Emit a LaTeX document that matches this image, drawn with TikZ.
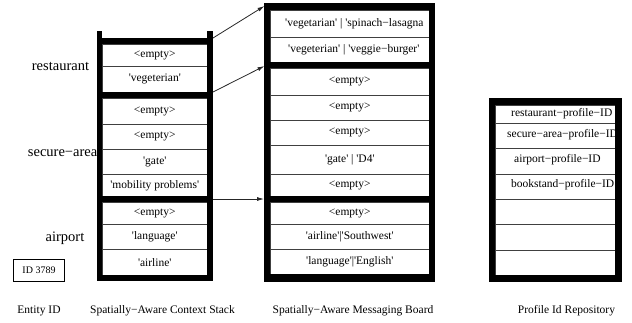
\documentclass[tikz,border=0pt]{standalone}
\usepackage{fontspec}
\setmainfont{Liberation Serif}
\usetikzlibrary{arrows.meta}
\newcommand{\sq}{\textquotesingle}
\begin{document}
\begin{tikzpicture}[x=1pt,y=-1pt,
  every node/.style={font=\fontsize{11.5}{13}\selectfont},
  cell/.style={draw=black!75, line width=0.6pt, inner sep=0pt, anchor=north west},
  txt/.style={inner sep=0pt},
  biglabel/.style={font=\fontsize{14.5}{16}\selectfont, inner sep=0pt},
  bar/.style={fill=black, draw=none},
  link/.style={draw=black!85, line width=0.8pt, -{Latex[length=7pt,width=4pt]}}]
\useasboundingbox (0,0) rectangle (632,322);

% ---------------- context stack ----------------
\node[cell, minimum width=105pt, minimum height=22pt] (s1) at (102,44) {<empty>};
\node[cell, minimum width=105pt, minimum height=26pt] (s2) at (102,66) {\sq vegeterian\sq};
\node[cell, minimum width=105pt, minimum height=26pt] (s3) at (102,98) {<empty>};
\node[cell, minimum width=105pt, minimum height=25pt] (s4) at (102,124) {<empty>};
\node[cell, minimum width=105pt, minimum height=25pt] (s5) at (102,149) {\sq gate\sq};
\node[cell, minimum width=105pt, minimum height=22pt] (s6) at (102,174) {\sq mobility problems\sq};
\node[cell, minimum width=105pt, minimum height=22pt] (s7) at (102,202) {<empty>};
\node[cell, minimum width=105pt, minimum height=25pt] (s8) at (102,224) {\sq language\sq};
\node[cell, minimum width=105pt, minimum height=26pt] (s9) at (102,249) {\sq airline\sq};
\fill[bar] (96.5,31) rectangle (102,281);
\fill[bar] (207,31) rectangle (212.5,281);
\fill[bar] (96.5,38) rectangle (212.5,44);
\fill[bar] (96.5,92) rectangle (212.5,98);
\fill[bar] (96.5,196) rectangle (212.5,202);
\fill[bar] (96.5,275) rectangle (212.5,281);

\node[biglabel] (lrest) at (60.5,66) {restaurant};
\node[biglabel, anchor=east] (lsec) at (97.5,153) {secure−area};
\node[biglabel] (lair) at (65,238) {airport};

% ---------------- messaging board ----------------
\node[cell, minimum width=159pt, minimum height=27pt] (b1) at (270,10) {};
\node[txt, anchor=west] (b1t) at (285,23.5) {\sq vegetarian\sq\ | \sq spinach−lasagna};
\node[cell, minimum width=159pt, minimum height=25pt] (b2) at (270,37) {};
\node[txt, anchor=west] (b2t) at (288,49.5) {\sq vegeterian\sq\ | \sq veggie−burger\sq};
\node[cell, minimum width=159pt, minimum height=27pt] (b3) at (270,68) {<empty>};
\node[cell, minimum width=159pt, minimum height=25pt] (b4) at (270,95) {<empty>};
\node[cell, minimum width=159pt, minimum height=25pt] (b5) at (270,120) {<empty>};
\node[cell, minimum width=159pt, minimum height=29pt] (b6) at (270,145) {\sq gate\sq\ | \sq D4\sq};
\node[cell, minimum width=159pt, minimum height=22pt] (b7) at (270,174) {<empty>};
\node[cell, minimum width=159pt, minimum height=22pt] (b8) at (270,202) {<empty>};
\node[cell, minimum width=159pt, minimum height=25pt] (b9) at (270,224) {\sq airline\sq|\sq Southwest\sq};
\node[cell, minimum width=159pt, minimum height=25pt] (b10) at (270,249) {\sq language\sq|\sq English\sq};
\fill[bar] (264,3) rectangle (270,282);
\fill[bar] (429,3) rectangle (435,282);
\fill[bar] (264,3) rectangle (435,10);
\fill[bar] (264,62) rectangle (435,68);
\fill[bar] (264,196) rectangle (435,202);
\fill[bar] (264,274) rectangle (435,282);

% ---------------- profile repository ----------------
\node[cell, minimum width=120pt, minimum height=18pt] (p1) at (495,105) {};
\node[txt, anchor=west] (p1t) at (511,114) {restaurant−profile−ID};
\node[cell, minimum width=120pt, minimum height=25pt] (p2) at (495,123) {};
\node[txt, anchor=west] (p2t) at (507,135) {secure−area−profile−ID};
\node[cell, minimum width=120pt, minimum height=26pt] (p3) at (495,148) {};
\node[txt, anchor=west] (p3t) at (514,160) {airport−profile−ID};
\node[cell, minimum width=120pt, minimum height=25pt] (p4) at (495,174) {};
\node[txt, anchor=west] (p4t) at (511,185) {bookstand−profile−ID};
\node[cell, minimum width=120pt, minimum height=25pt] (p5) at (495,199) {};
\node[cell, minimum width=120pt, minimum height=26pt] (p6) at (495,224) {};
\node[cell, minimum width=120pt, minimum height=25pt] (p7) at (495,250) {};
\fill[bar] (489,98) rectangle (495,282);
\fill[bar] (615,98) rectangle (622,282);
\fill[bar] (489,98) rectangle (622,105);
\fill[bar] (489,275) rectangle (622,282);

% ---------------- entity id ----------------
\node[draw, line width=1.6pt, minimum width=51pt, minimum height=22pt, inner sep=0pt,
      font=\fontsize{10}{12}\selectfont] (eid) at (39,270.5) {ID 3789};

% ---------------- arrows ----------------
\coordinate (a1s) at (213,38);
\coordinate (a1e) at (264.5,6);
\coordinate (a2s) at (213,92);
\coordinate (a2e) at (264.5,66);
\coordinate (a3s) at (212.5,199);
\coordinate (a3e) at (264,199);
\draw[link] (a1s) -- (a1e);
\draw[link] (a2s) -- (a2e);
\draw[link] (a3s) -- (a3e);

% ---------------- captions ----------------
\node[txt] (c1) at (39,311) {Entity ID};
\node[txt] (c2) at (162.5,311) {Spatially−Aware Context Stack};
\node[txt] (c3) at (353,311) {Spatially−Aware Messaging Board};
\node[txt] (c4) at (566.5,311) {Profile Id Repository};
\end{tikzpicture}
\end{document}
